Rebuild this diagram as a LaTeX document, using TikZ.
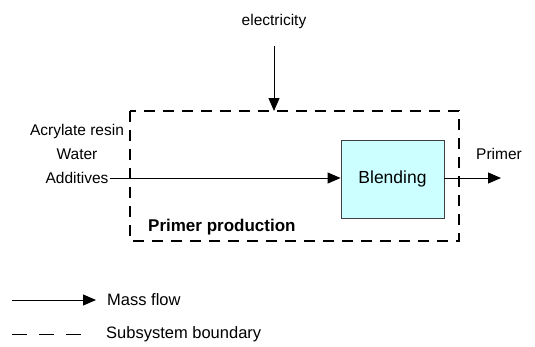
\documentclass[tikz,border=0pt]{standalone}
\usepackage{fontspec}
\setmainfont{Liberation Sans}
\usetikzlibrary{arrows.meta}
\definecolor{blendfill}{HTML}{CCFFFF}
\tikzset{
  flow/.style={-{Triangle[length=13pt,width=11pt]},line width=1pt},
  boundary/.style={line width=1.8pt,dash pattern=on 11pt off 8pt},
  process/.style={draw=black!75,line width=0.9pt,fill=blendfill,minimum width=103pt,minimum height=78pt,font=\fontsize{17.5}{20}\selectfont},
  label/.style={font=\fontsize{15.5}{18}\selectfont,inner sep=1pt},
  legendlabel/.style={font=\fontsize{16.5}{19}\selectfont,inner sep=1pt}
}
\begin{document}
\begin{tikzpicture}[x=1pt,y=-1pt]
            \useasboundingbox (0,0) rectangle (535,346);
            % subsystem boundary
            \draw[boundary] (130,111) rectangle (459,241);
            \node[label,font=\bfseries\fontsize{17}{20}\selectfont,anchor=west] (sub) at (147,227) {Primer production};
            % process
            \node[process] (blend) at (392.5,179) {Blending};
            % inputs and outputs
            \node[label] (elec) at (274,21) {electricity};
            \coordinate (electop) at (274,46);
            \coordinate (elecend) at (274,111);
            \draw[flow] (electop) -- (elecend);
            \node[label] (resin) at (77,131) {Acrylate resin};
            \node[label] (water) at (77,154) {Water};
            \node[label] (addit) at (77,178) {Additives};
            \draw[flow] (addit.east) -- (blend.west |- addit.east);
            \node[label,anchor=west] (primer) at (475,154) {Primer};
            \coordinate (primerend) at (501,178);
            \draw[flow] (blend.east |- primerend) -- (primerend);
            % legend
            \coordinate (lega) at (12,300);
            \coordinate (legb) at (96,300);
            \draw[flow] (lega) -- (legb);
            \node[legendlabel,anchor=west] (mass) at (106,300) {Mass flow};
            \coordinate (legc) at (12,334);
            \coordinate (legd) at (82,334);
            \draw[line width=1pt,dash pattern=on 15pt off 12pt] (legc) -- (legd);
            \node[legendlabel,anchor=west] (bound) at (105,334) {Subsystem boundary};
        \end{tikzpicture}
\end{document}
